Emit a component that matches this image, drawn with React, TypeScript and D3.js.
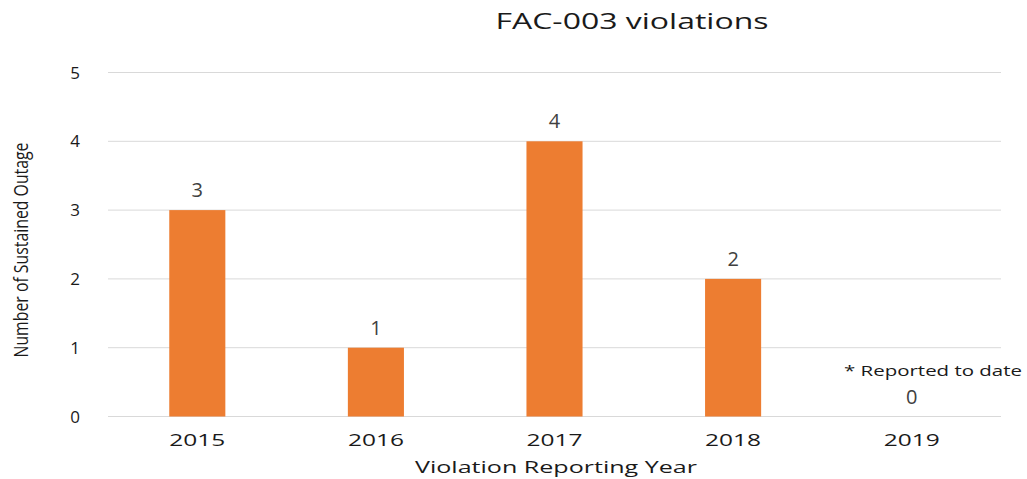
import React from "react";
import * as d3 from "d3";

const years = ["2015", "2016", "2017", "2018", "2019"];
const violations = [3, 1, 4, 2, 0];
const yTicks = [0, 1, 2, 3, 4, 5];
const title = "FAC-003 violations";
const xTitle = "Violation Reporting Year";
const yTitle = "Number of Sustained Outage";
const note = "* Reported to date";

export default function App() {
  const W = 1027, H = 479;
  const left = 108, right = 1001, top = 72.5, bottom = 416.5;
  const x = d3.scaleBand<string>().domain(years).range([left, right]).paddingInner(0.686).paddingOuter(0.343);
  const y = d3.scaleLinear().domain([0, 5]).range([bottom, top]);
  const font = "'Open Sans', 'DejaVu Sans', sans-serif";
  return (
    <svg width={W} height={H} style={{ position: "absolute", left: 0, top: 0, background: "#fff" }}>
      <rect x={0} y={0} width={W} height={H} fill="#fff" />
      <text x={632} y={29} textAnchor="middle" fontFamily={font} fontSize={22} fill="#1a1a1a" textLength={273} lengthAdjust="spacingAndGlyphs">{title}</text>
      {yTicks.map((t) => (
        <g key={t}>
          <line x1={left} x2={right} y1={y(t)} y2={y(t)} stroke="#d9d9d9" strokeWidth={1} />
          <text x={75} y={y(t) + 6} textAnchor="middle" fontFamily={font} fontSize={17} fill="#1a1a1a">{t}</text>
        </g>
      ))}
      {years.map((yr, i) => (
        <g key={yr}>
          {violations[i] > 0 && (
            <rect x={x(yr)} y={y(violations[i])} width={x.bandwidth()} height={y(0) - y(violations[i])} fill="#ED7D31" />
          )}
          <text x={(x(yr) as number) + x.bandwidth() / 2} y={y(violations[i]) - 13} textAnchor="middle" fontFamily={font} fontSize={20} fill="#404040">{violations[i]}</text>
          <text x={(x(yr) as number) + x.bandwidth() / 2} y={446} textAnchor="middle" fontFamily={font} fontSize={17} fill="#1a1a1a" textLength={56} lengthAdjust="spacingAndGlyphs">{yr}</text>
        </g>
      ))}
      <text x={933} y={376} textAnchor="middle" fontFamily={font} fontSize={15} fill="#1a1a1a" textLength={178} lengthAdjust="spacingAndGlyphs">{note}</text>
      <text x={556} y={473} textAnchor="middle" fontFamily={font} fontSize={17} fill="#1a1a1a" textLength={282} lengthAdjust="spacingAndGlyphs">{xTitle}</text>
      <text transform={`translate(28, 250) rotate(-90)`} textAnchor="middle" fontFamily={font} fontSize={20} fill="#1a1a1a" textLength={215} lengthAdjust="spacingAndGlyphs">{yTitle}</text>
    </svg>
  );
}
